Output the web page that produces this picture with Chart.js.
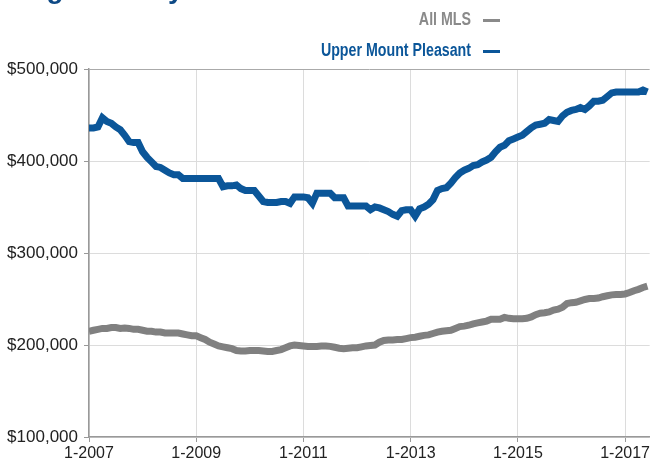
<!DOCTYPE html>
<html>
<head>
<meta charset="utf-8">
<script src="https://cdn.jsdelivr.net/npm/chart.js@4"></script>
<style>
  body { margin: 0; background: #fff; }
  #wrap { position: relative; width: 652px; height: 466px; overflow: hidden; }
  #title { position: absolute; left: 3px; top: -25px; font: bold 28px/28px "Liberation Sans", Arial, sans-serif; color: #0e4a86; white-space: nowrap; }
  .leg { position: absolute; right: 181px; font: bold 18px/20px "Liberation Sans", Arial, sans-serif; white-space: nowrap; transform: scaleX(0.79); transform-origin: right center; }
  .dash { position: absolute; left: 483px; width: 17px; height: 3px; }
</style>
</head>
<body>
<div id="wrap">
  <div id="title">Single Family Detached</div>
  <div class="leg" style="top:9px;color:#8a8a8a">All MLS</div>
  <div class="dash" style="top:19px;background:#8a8a8a"></div>
  <div class="leg" style="top:40px;color:#0b5699">Upper Mount Pleasant</div>
  <div class="dash" style="top:50px;background:#0b5699"></div>
  <canvas id="priceChart" width="652" height="466"></canvas>
</div>
<script>
// monthly benchmark prices, Jan 2007 .. Jun 2017, in $ thousands
const upperMountPleasant = [
  436, 436, 437, 447, 443, 441, 437, 434, 428, 421, 420, 420,
  410, 404, 399, 394, 393, 390, 387, 385, 385, 381, 381, 381,
  381, 381, 381, 381, 381, 381, 372, 373, 373, 374, 370, 368,
  368, 368, 362, 356, 355, 355, 355, 356, 356, 354, 361, 361,
  361, 360, 354, 365, 365, 365, 365, 360, 360, 360, 351, 351,
  351, 351, 351, 347, 350, 349, 347, 345, 342, 340, 346, 347,
  347, 340, 348, 350, 353, 358, 368, 370, 371, 376, 382, 387,
  390, 392, 395, 396, 399, 401, 404, 410, 415, 417, 422, 424,
  426, 428, 432, 436, 439, 440, 441, 445, 444, 443, 449, 453,
  455, 456, 458, 456, 460, 465, 465, 466, 470, 474, 475, 475,
  475, 475, 475, 475, 477, 475
];
const allMls = [
  215, 216, 217, 218, 218, 219, 219, 218, 218.5, 218, 217, 217,
  216, 215, 215, 214, 214, 213, 213, 213, 213, 212, 211, 210,
  210, 208, 206, 203, 201, 199, 198, 197, 196, 194, 193.5, 193.5,
  194, 194, 194, 193.5, 193, 193, 194, 195, 197, 199, 200, 199.5,
  199, 198.5, 198.5, 198.5, 199, 199, 198.5, 197.5, 196.5, 196, 196.5, 197,
  197, 198, 199, 199.5, 200, 203, 205, 205.5, 205.5, 206, 206, 207,
  208, 208.5, 209.5, 210.5, 211, 212.5, 214, 215, 215.5, 216, 218, 220,
  220.5, 221.5, 223, 224, 225, 226, 228, 228, 228, 230, 229, 228.5,
  228.5, 228.5, 229, 230.5, 233, 234.5, 235, 236, 238, 239, 241, 245,
  246, 246.5, 248, 249.5, 250.5, 250.5, 251, 252.5, 253.5, 254.5, 255, 255,
  255.5, 257, 259, 260.5, 262.5, 264
];
const tickMonths = [0, 24, 48, 72, 96, 120];
const tickLabels = ['1-2007', '1-2009', '1-2011', '1-2013', '1-2015', '1-2017'];
const yTicks = [100000, 200000, 300000, 400000, 500000];

function toPoints(arr) {
  return arr.map((v, i) => ({ x: i, y: v * 1000 }));
}

const fontFamily = '"Liberation Sans", Arial, sans-serif';

new Chart(document.getElementById('priceChart'), {
  type: 'line',
  data: {
    datasets: [{
      label: 'Upper Mount Pleasant',
      data: toPoints(upperMountPleasant),
      borderColor: '#0b5699',
      borderWidth: 7,
      pointRadius: 0,
      tension: 0
    }, {
      label: 'All MLS',
      data: toPoints(allMls),
      borderColor: '#808080',
      borderWidth: 7,
      pointRadius: 0,
      tension: 0
    }]
  },
  options: {
    responsive: false,
    animation: false,
    layout: { padding: { top: 69, right: 0, left: 0, bottom: 0 } },
    plugins: { legend: { display: false }, tooltip: { enabled: false } },
    scales: {
      x: {
        type: 'linear',
        min: 0,
        max: 125.5,
        afterBuildTicks: s => { s.ticks = tickMonths.map(v => ({ value: v })); },
        afterFit: s => { s.height = 29; },
        ticks: {
          color: '#222',
          font: { family: fontFamily, size: 16 },
          padding: 2,
          maxRotation: 0,
          callback: (v) => tickLabels[tickMonths.indexOf(v)]
        },
        grid: { color: '#dcdcdc', tickColor: '#999', tickLength: 5, lineWidth: 1 },
        border: { color: '#999', width: 1.5 }
      },
      y: {
        min: 100000,
        max: 500000,
        afterBuildTicks: s => { s.ticks = yTicks.map(v => ({ value: v })); },
        afterFit: s => { s.width = 89; },
        ticks: {
          color: '#222',
          font: { family: fontFamily, size: 17 },
          padding: 6,
          callback: v => '$' + v.toLocaleString('en-US')
        },
        grid: {
          color: ctx => ctx.tick && ctx.tick.value === 500000 ? '#aaa' : '#dcdcdc',
          tickColor: '#999',
          tickLength: 5
        },
        border: { color: '#999', width: 1.5 }
      }
    }
  }
});
</script>
</body>
</html>
